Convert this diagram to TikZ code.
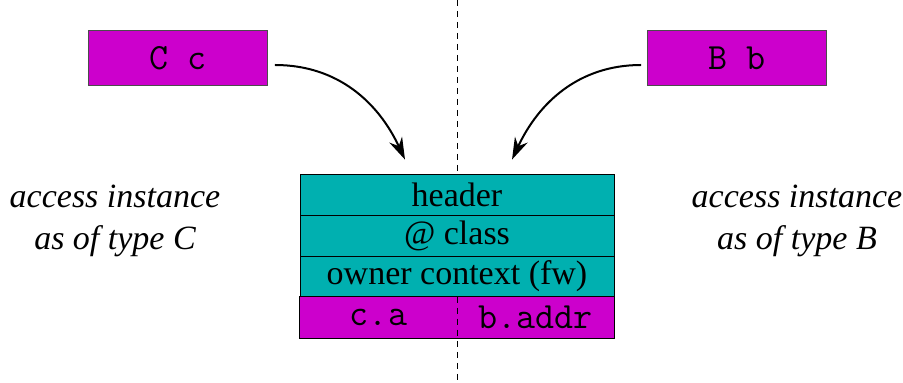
\documentclass[tikz,border=0pt]{standalone}
\usepackage{fontspec}
\setmainfont{Liberation Serif}
\usetikzlibrary{arrows.meta}
\definecolor{objmag}{RGB}{204,0,204}
\definecolor{objteal}{RGB}{0,176,176}

\begin{document}
\begin{tikzpicture}[x=0.5pt,y=-0.5pt,
	var/.style={draw=black!70,fill=objmag,inner sep=0pt,minimum width=89.5pt,minimum height=27.5pt,font=\fontsize{18.5}{20}\ttfamily},
	row/.style={draw,fill=objteal,inner sep=0pt,minimum width=157pt,minimum height=20.5pt,font=\fontsize{17}{20}\selectfont},
	slot/.style={fill=objmag,inner sep=0pt,minimum width=78.5pt,minimum height=20.5pt,font=\fontsize{18.5}{20}\ttfamily},
	note/.style={align=center,font=\fontsize{17}{21}\itshape},
	ref/.style={-{Stealth[length=11pt,width=7pt]},line width=1pt},
	cut/.style={dash pattern=on 3pt off 2.5pt,line width=0.5pt}]
	\useasboundingbox (0,0) rectangle (903,383);
	\coordinate (top) at (457,0);
	\coordinate (bot) at (457,383);
	\draw[cut] (top) -- (bot);

	\node[var] at (178,58) (cvar) {C c};
	\node[var] at (737,58) (bvar) {B b};

	\foreach \y/\n/\t in {194.5/hdr/header,235.5/cls/@ class,276.5/own/owner context (fw)}
		\node[row] at (457,\y) (\n) {\t};
	\node[slot] at (378.5,317.5) (ca) {c.a};
	\node[slot] at (535.5,317.5) (baddr) {b.addr};
	\draw (ca.north west) rectangle (baddr.south east);
	\draw[cut] (ca.north east) -- (ca.south east);

	\node[note] at (115,221) (ntc) {access instance\\as of type C};
	\node[note] at (797,221) (ntb) {access instance\\as of type B};

	\draw[ref] ([xshift=3.5pt,yshift=-3.5pt]cvar.east) to[out=0,in=115] ([xshift=-26pt,yshift=7pt]hdr.north);
	\draw[ref] ([xshift=-3pt,yshift=-3.5pt]bvar.west) to[out=180,in=65] ([xshift=27.5pt,yshift=7pt]hdr.north);
\end{tikzpicture}
\end{document}
